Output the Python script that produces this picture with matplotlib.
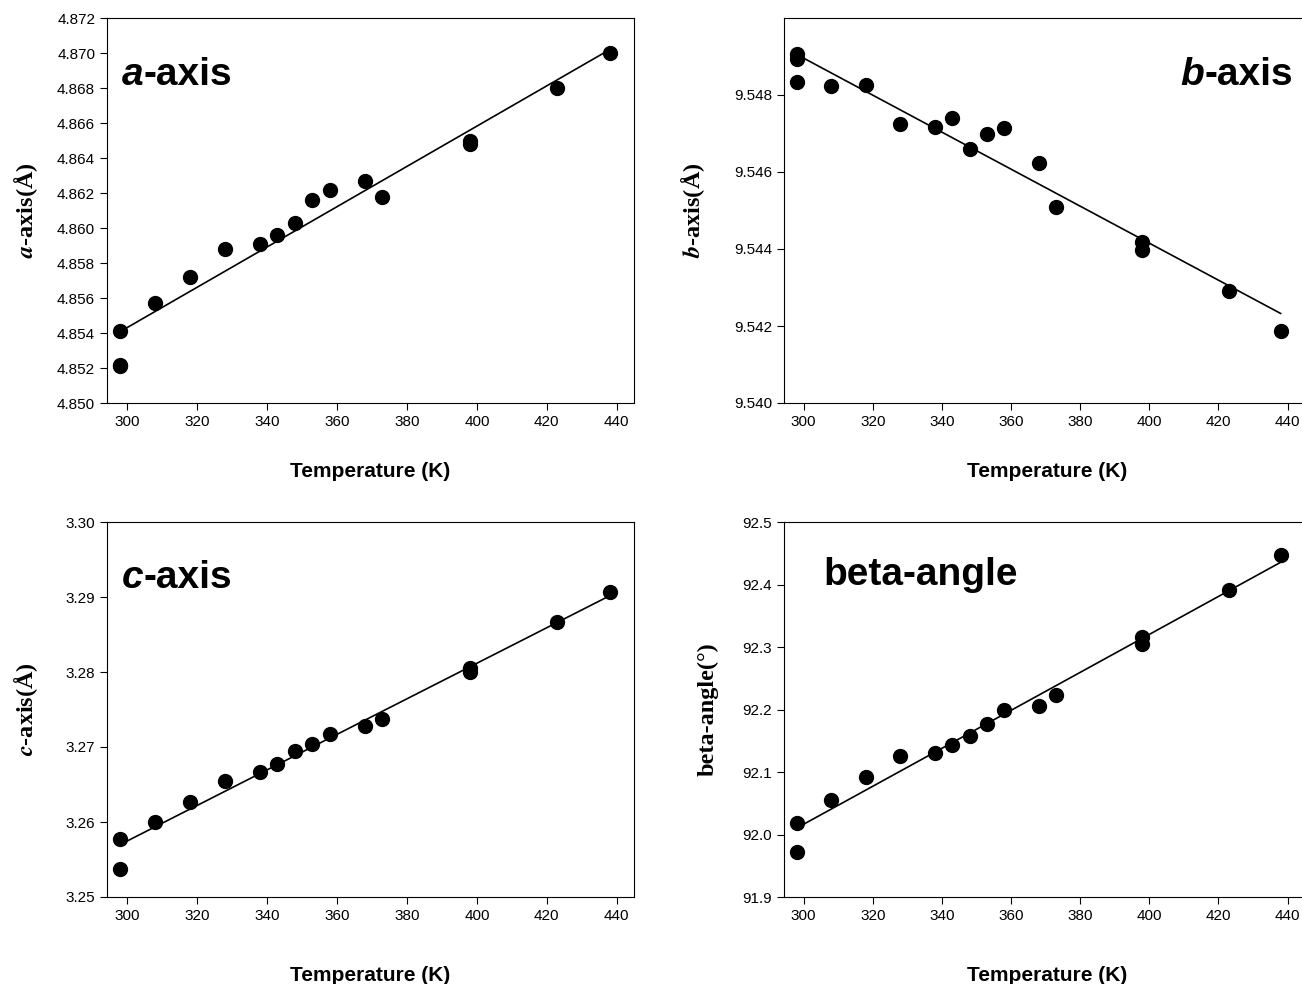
import numpy as np
import matplotlib
matplotlib.use('Agg')
import matplotlib.pyplot as plt

plt.rcParams['font.family'] = ['Liberation Sans', 'DejaVu Sans']
plt.rcParams['mathtext.fontset'] = 'stix'

# temperatures (K) and lattice values
temp_a = [298, 298, 298, 308, 318, 328, 338, 343, 348, 353, 358, 368, 373, 398, 398, 423, 438]
a_axis = [4.8541, 4.8522, 4.8521, 4.8557, 4.8572, 4.8588, 4.8591, 4.8596, 4.8603, 4.8616,
          4.8622, 4.8627, 4.8618, 4.8650, 4.8648, 4.8680, 4.8700]

temp_b = [298, 298, 298, 308, 318, 328, 338, 343, 348, 353, 358, 368, 373, 398, 398, 423, 438]
b_axis = [9.54907, 9.54894, 9.54833, 9.54824, 9.54826, 9.54725, 9.54718, 9.54740, 9.54661,
          9.54700, 9.54713, 9.54624, 9.54510, 9.54419, 9.54397, 9.54291, 9.54187]

temp_c = [298, 298, 308, 318, 328, 338, 343, 348, 353, 358, 368, 373, 398, 398, 423, 438]
c_axis = [3.2577, 3.2537, 3.2600, 3.2627, 3.2655, 3.2666, 3.2678, 3.2694, 3.2704, 3.2718,
          3.2728, 3.2737, 3.2805, 3.2800, 3.2866, 3.2906]

temp_beta = [298, 298, 308, 318, 328, 338, 343, 348, 353, 358, 368, 373, 398, 398, 423, 438]
beta_angle = [92.018, 91.972, 92.055, 92.092, 92.126, 92.131, 92.144, 92.157, 92.177, 92.200,
              92.205, 92.224, 92.316, 92.305, 92.391, 92.447]

x_ticks = [300, 320, 340, 360, 380, 400, 420, 440]

fig = plt.figure(figsize=(13.02, 9.84), dpi=100)
w = 527 / 1302
ax_a = fig.add_axes([107 / 1302, 1 - 403 / 984, w, 385 / 984])
ax_b = fig.add_axes([784 / 1302, 1 - 403 / 984, w, 385 / 984])
ax_c = fig.add_axes([107 / 1302, 1 - 897 / 984, w, 375 / 984])
ax_d = fig.add_axes([784 / 1302, 1 - 897 / 984, w, 375 / 984])


def draw(ax, t, v, ylim, yticks, yfmt, ylabel, pad_x, label_x, xlim):
    ax.plot(t, v, 'o', color='black', markersize=10, zorder=3)
    k, b = np.polyfit(t, v, 1)
    tt = np.array([min(t), max(t)])
    ax.plot(tt, k * tt + b, color='black', lw=1.2)
    ax.set_xlim(*xlim)
    ax.set_ylim(*ylim)
    ax.set_xticks(x_ticks)
    ax.set_yticks(yticks)
    ax.set_yticklabels([yfmt.format(y) for y in yticks])
    ax.tick_params(direction='out', length=5, labelsize=11, top=False, right=False)
    ax.set_xlabel('Temperature (K)', fontsize=15, fontweight='bold', labelpad=pad_x)
    ax.set_ylabel(ylabel, fontsize=17.5, fontweight='bold', family='Liberation Serif')
    ax.yaxis.set_label_coords(label_x, 0.5)


def panel_label(ax, italic, rest, x, y, right=False):
    kw = dict(fontsize=28, fontweight='bold', transform=ax.transAxes)
    if not right:
        t1 = ax.text(x, y, italic, style='italic', ha='left', va='baseline', **kw)
        ax.annotate(rest, xy=(1, 0), xycoords=t1, ha='left', va='bottom',
                    fontsize=28, fontweight='bold')
    else:
        t1 = ax.text(x, y, rest, ha='right', va='baseline', **kw)
        ax.annotate(italic, xy=(0, 0), xycoords=t1, ha='right', va='bottom',
                    fontsize=28, fontweight='bold', style='italic')


left_xlim = (294.3, 444.9)
right_xlim = (294.3, 446.8)

draw(ax_a, temp_a, a_axis, (4.850, 4.872), np.arange(4.850, 4.8721, 0.002), '{:.3f}',
     r'$\mathbfit{a}$-axis(Å)', 24, -0.127, left_xlim)
draw(ax_b, temp_b, b_axis, (9.540, 9.550), np.arange(9.540, 9.5481, 0.002), '{:.3f}',
     r'$\mathbfit{b}$-axis(Å)', 24, -0.146, right_xlim)
draw(ax_c, temp_c, c_axis, (3.25, 3.30), np.arange(3.25, 3.3001, 0.01), '{:.2f}',
     r'$\mathbfit{c}$-axis(Å)', 31, -0.127, left_xlim)
draw(ax_d, temp_beta, beta_angle, (91.9, 92.5), np.arange(91.9, 92.501, 0.1), '{:.1f}',
     'beta-angle(°)', 31, -0.124, right_xlim)

panel_label(ax_a, 'a', '-axis', 0.029, 0.826)
panel_label(ax_b, 'b', '-axis', 0.966, 0.826, right=True)
panel_label(ax_c, 'c', '-axis', 0.029, 0.824)
ax_d.text(0.074, 0.832, 'beta-angle', fontsize=28, fontweight='bold',
          transform=ax_d.transAxes, ha='left', va='baseline')

fig.savefig('out.png', dpi=100)
